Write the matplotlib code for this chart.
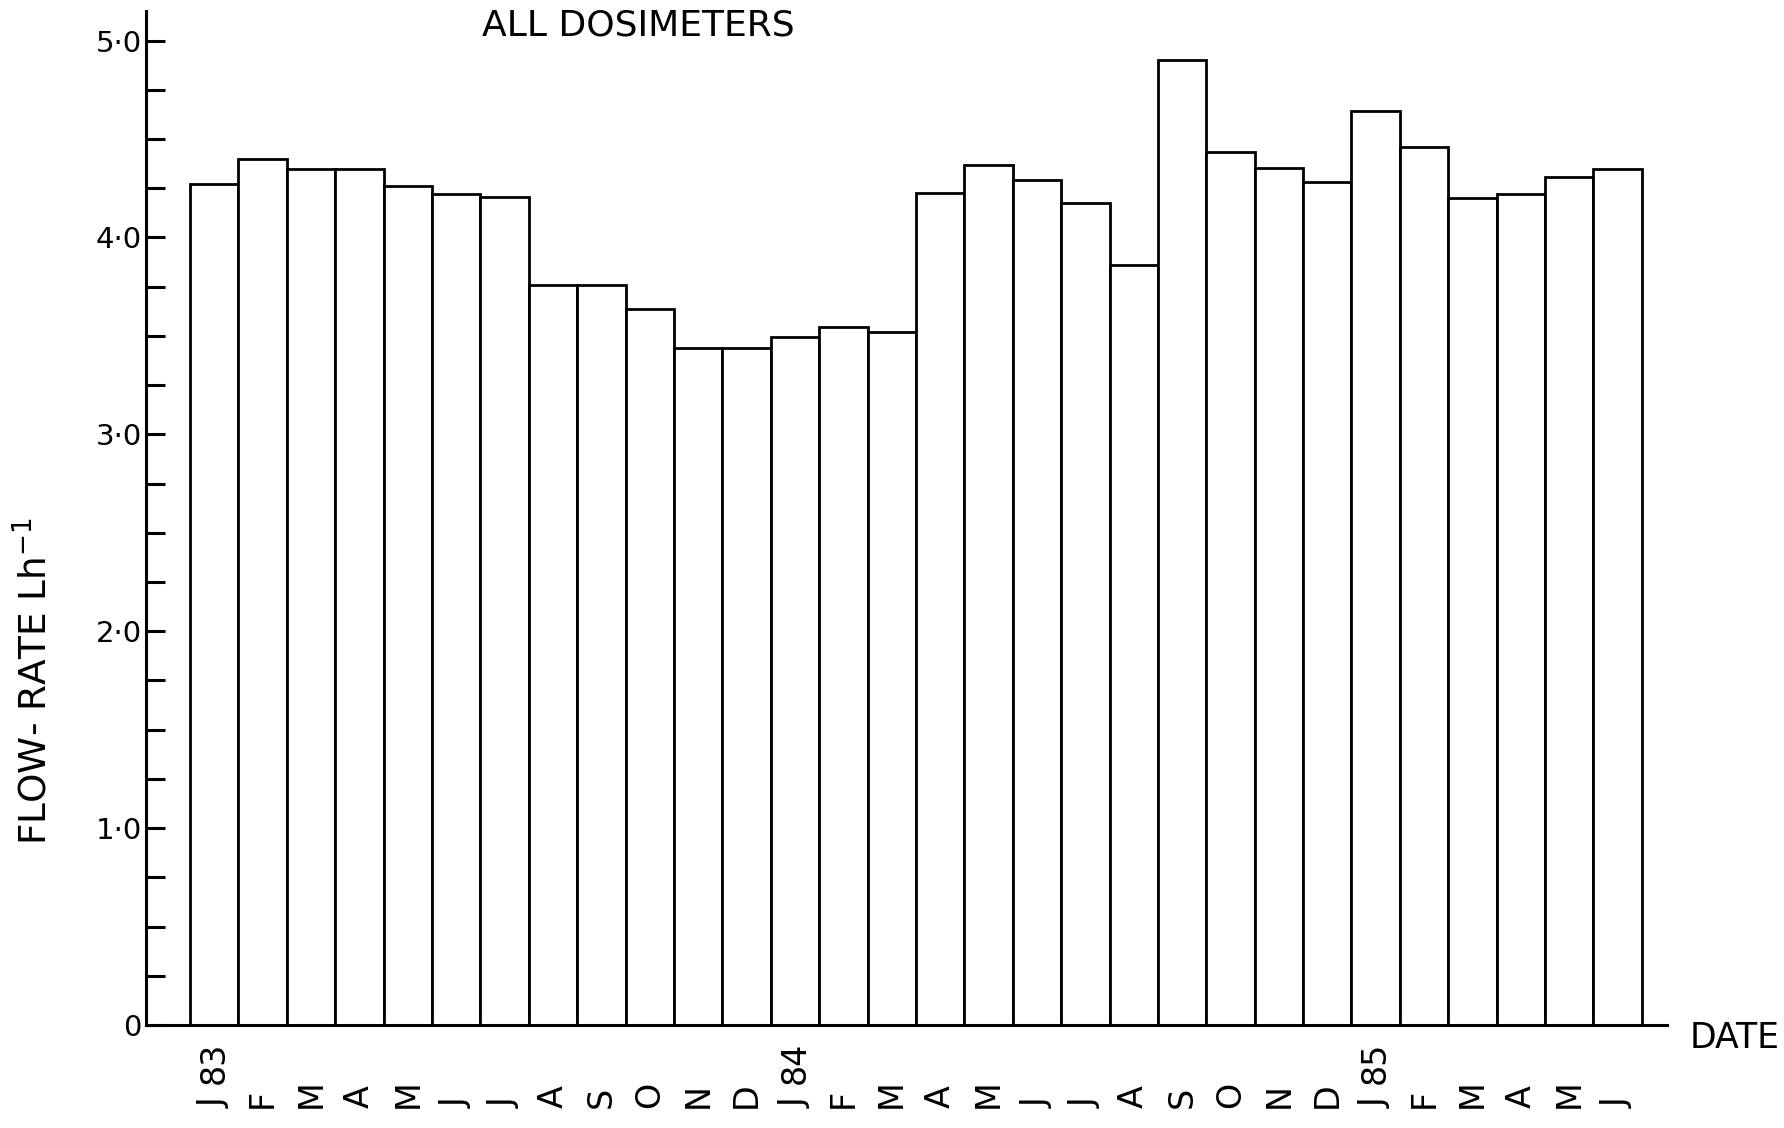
import matplotlib
matplotlib.use("Agg")
import matplotlib.pyplot as plt
import matplotlib.transforms as mtransforms
import numpy as np

plt.rcParams['font.family'] = ['DejaVu Sans']

months = ["J", "F", "M", "A", "M", "J", "J", "A", "S", "O", "N", "D",
          "J", "F", "M", "A", "M", "J", "J", "A", "S", "O", "N", "D",
          "J", "F", "M", "A", "M", "J"]
years = ["83", "84", "85"]
flow_rate = [4.27, 4.40, 4.35, 4.345, 4.26, 4.22, 4.205, 3.76, 3.76, 3.635,
             3.44, 3.44, 3.495, 3.545, 3.52, 4.225, 4.37, 4.29, 4.175, 3.86,
             4.90, 4.435, 4.355, 4.28, 4.64, 4.46, 4.20, 4.22, 4.305, 4.35]
ytick_vals = [0, 1, 2, 3, 4, 5]
ytick_labels = ["0", "1·0", "2·0", "3·0", "4·0", "5·0"]

W, H = 1784, 1128
fig = plt.figure(figsize=(W / 100, H / 100), dpi=100)
ax = fig.add_axes([146 / W, 1 - 1025 / H, (1667 - 146) / W, (1025 - 11) / H])

x = np.arange(len(flow_rate))
ax.bar(x, flow_rate, width=1.0, color="white", edgecolor="black", linewidth=2.0)

ax.set_xlim(-1.41, 30.02)
ax.set_ylim(0, 5.15)

for s in ["top", "right"]:
    ax.spines[s].set_visible(False)
for s in ["left", "bottom"]:
    ax.spines[s].set_linewidth(2.2)

ax.set_yticks(ytick_vals)
ax.set_yticklabels(ytick_labels, fontsize=21)
ax.set_yticks(np.arange(0, 5.01, 0.25), minor=True)
ax.tick_params(axis="y", which="both", direction="in", length=14, width=2.2, pad=3)
ax.set_xticks([])

fig.text(34 / W, 1 - 681 / H, "FLOW- RATE Lh$^{\\mathregular{-1}}$", rotation=90,
         ha="center", va="center", fontsize=27)

# month and year labels below axis
trans = mtransforms.blended_transform_factory(ax.transData, fig.transFigure)
for xi, lab in zip(x, months):
    ax.text(xi, 1 - 1108 / H, lab, rotation=90, ha="center", va="bottom",
            fontsize=24, transform=trans)
for k, yr in enumerate(years):
    ax.text(x[k * 12], 1 - 1084 / H, yr, rotation=90, ha="center", va="bottom",
            fontsize=24, transform=trans)

fig.text(638 / W, 1 - 26 / H, "ALL DOSIMETERS", ha="center", va="center", fontsize=26)
fig.text(1735 / W, 1 - 1038 / H, "DATE", ha="center", va="center", fontsize=25)

fig.savefig("out.png", dpi=100, facecolor="white")
